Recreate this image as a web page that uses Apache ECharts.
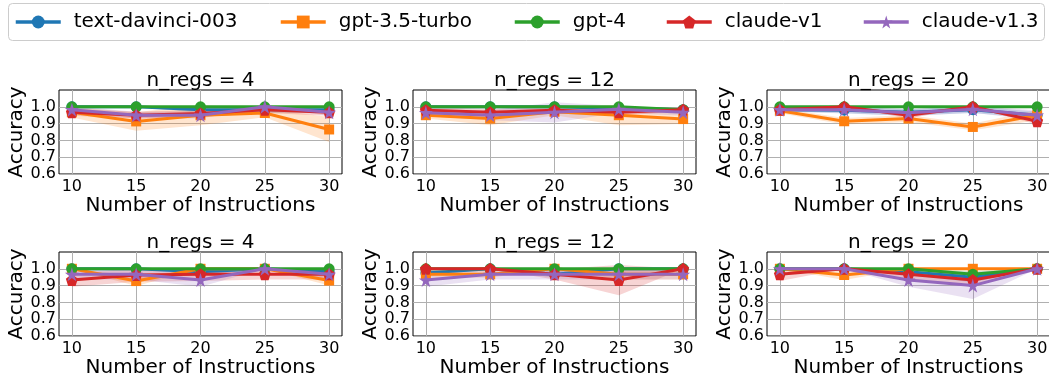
<!DOCTYPE html>
<html>
<head>
<meta charset="utf-8">
<script src="https://cdn.jsdelivr.net/npm/echarts@6/dist/echarts.min.js"></script>
<style>
  html, body { margin: 0; padding: 0; background: #fff; }
  #chart { width: 1049px; height: 379px; }
</style>
</head>
<body>
<div id="chart"></div>
<script>
// Accuracy vs number of instructions, 2 rows x 3 panels (n_regs)
const xValues = [10, 15, 20, 25, 30];
const models = ['text-davinci-003', 'gpt-3.5-turbo', 'gpt-4', 'claude-v1', 'claude-v1.3'];
const panelTitles = ['n_regs = 4', 'n_regs = 12', 'n_regs = 20', 'n_regs = 4', 'n_regs = 12', 'n_regs = 20'];

// mean accuracy per panel (top row first)
const davinciMean = [
  [1.0, 1.0, 0.983, 0.983, 0.983],
  [1.0, 1.0, 1.0, 0.99, 0.983],
  [0.983, 0.98, 0.967, 0.983, 0.95],
  [1.0, 1.0, 0.983, 1.0, 0.983],
  [0.975, 1.0, 0.967, 1.0, 1.0],
  [1.0, 1.0, 0.983, 0.95, 1.0]
];
const gpt35Mean = [
  [0.967, 0.913, 0.95, 0.963, 0.865],
  [0.95, 0.93, 0.97, 0.95, 0.927],
  [0.976, 0.914, 0.93, 0.88, 0.95],
  [1.0, 0.927, 1.0, 1.0, 0.93],
  [0.967, 0.967, 1.0, 0.967, 0.967],
  [1.0, 0.963, 1.0, 1.0, 1.0]
];
const gpt4Mean = [
  [1.0, 1.0, 1.0, 1.0, 1.0],
  [1.0, 1.0, 1.0, 1.0, 0.983],
  [1.0, 1.0, 1.0, 1.0, 1.0],
  [1.0, 1.0, 1.0, 1.0, 1.0],
  [1.0, 1.0, 1.0, 1.0, 1.0],
  [1.0, 1.0, 1.0, 0.967, 1.0]
];
const claudeV1Mean = [
  [0.967, 0.95, 0.96, 0.983, 0.967],
  [0.98, 0.967, 0.98, 0.967, 0.983],
  [0.983, 1.0, 0.95, 1.0, 0.914],
  [0.933, 0.963, 0.967, 0.967, 0.967],
  [1.0, 1.0, 0.967, 0.933, 1.0],
  [0.967, 1.0, 0.967, 0.933, 1.0]
];
const claudeV13Mean = [
  [0.983, 0.95, 0.95, 1.0, 0.967],
  [0.965, 0.95, 0.967, 0.985, 0.967],
  [0.983, 0.983, 0.965, 0.985, 0.95],
  [0.967, 0.967, 0.933, 1.0, 0.967],
  [0.933, 0.967, 0.967, 0.967, 0.967],
  [1.0, 1.0, 0.933, 0.9, 1.0]
];

// standard deviation (shaded band)
const davinciStd = [
  [0, 0, 0.02, 0.02, 0.02],
  [0, 0, 0, 0.01, 0.01],
  [0.01, 0.02, 0.02, 0.02, 0.02],
  [0, 0, 0.02, 0, 0.02],
  [0.02, 0, 0.02, 0, 0],
  [0, 0, 0.02, 0.03, 0]
];
const gpt35Std = [
  [0.03, 0.055, 0.06, 0.025, 0.075],
  [0.02, 0.04, 0.02, 0.06, 0.03],
  [0.015, 0.02, 0.02, 0.02, 0.03],
  [0, 0.03, 0, 0, 0.03],
  [0.02, 0.02, 0, 0.03, 0.03],
  [0, 0.03, 0, 0, 0]
];
const gpt4Std = [
  [0, 0, 0, 0, 0],
  [0, 0, 0, 0, 0.01],
  [0, 0, 0, 0, 0],
  [0, 0, 0, 0, 0],
  [0, 0, 0, 0, 0],
  [0, 0, 0, 0.02, 0]
];
const claudeV1Std = [
  [0.02, 0.02, 0.02, 0.02, 0.02],
  [0.02, 0.02, 0.02, 0.02, 0.01],
  [0.01, 0, 0.02, 0, 0.02],
  [0.04, 0.04, 0.04, 0.03, 0.03],
  [0, 0, 0.03, 0.09, 0],
  [0.04, 0, 0.03, 0.04, 0]
];
const claudeV13Std = [
  [0.02, 0.02, 0.02, 0, 0.02],
  [0.02, 0.03, 0.06, 0.02, 0.02],
  [0.01, 0.02, 0.02, 0.02, 0.03],
  [0.03, 0.03, 0.04, 0, 0.03],
  [0.04, 0.03, 0.03, 0.03, 0.03],
  [0, 0, 0.04, 0.08, 0]
];

const yTicks = [0.6, 0.7, 0.8, 0.9, 1.0];

const means = [davinciMean, gpt35Mean, gpt4Mean, claudeV1Mean, claudeV13Mean];
const stds = [davinciStd, gpt35Std, gpt4Std, claudeV1Std, claudeV13Std];
const colors = ['#1f77b4', '#ff7f0e', '#2ca02c', '#d62728', '#9467bd'];
const pentagon = 'path://M0,-1 L0.951,-0.309 L0.588,0.809 L-0.588,0.809 L-0.951,-0.309 Z';
const star = 'path://M0,-1 L0.2245,-0.309 L0.951,-0.309 L0.363,0.118 L0.588,0.809 L0,0.382 L-0.588,0.809 L-0.363,0.118 L-0.951,-0.309 L-0.2245,-0.309 Z';
const symbols = ['circle', 'rect', 'circle', pentagon, star];
const symbolSizes = [11, 10, 11, 12, 14];

const FONT = 'DejaVu Sans';
const colLeft = [59, 413, 767];
const rowTop = [90, 252];
const gridW = 283, gridH = 84;

const grids = [], xAxes = [], yAxes = [], titles = [], series = [];

panelTitles.forEach((t, p) => {
  const r = Math.floor(p / 3), c = p % 3;
  grids.push({
    left: colLeft[c], top: rowTop[r], width: gridW, height: gridH,
    show: true, borderColor: '#000', borderWidth: 1, backgroundColor: 'transparent',
    outerBoundsMode: 'none'
  });
  titles.push({
    text: t, left: colLeft[c] + gridW / 2, top: rowTop[r] - 19, textAlign: 'center', padding: 0,
    textStyle: { fontFamily: FONT, fontSize: 20, fontWeight: 'normal', color: '#000' }
  });
  xAxes.push({
    type: 'value', gridIndex: p, min: 9, max: 31,
    name: 'Number of Instructions', nameLocation: 'middle', nameGap: 19,
    nameTextStyle: { fontFamily: FONT, fontSize: 20, color: '#000' },
    axisLine: { show: false },
    axisTick: { show: false, customValues: xValues },
    axisLabel: { customValues: xValues, margin: 5, fontFamily: FONT, fontSize: 16, color: '#000' },
    splitLine: { show: true, lineStyle: { color: '#b0b0b0', width: 1 } }
  });
  yAxes.push({
    type: 'value', gridIndex: p, min: 0.6, max: 1.1,
    name: 'Accuracy', nameLocation: 'middle', nameGap: 32, nameRotate: 90,
    nameTextStyle: { fontFamily: FONT, fontSize: 20, color: '#000' },
    axisLine: { show: false },
    axisTick: { show: false, customValues: yTicks },
    axisLabel: { customValues: yTicks, margin: 3, fontFamily: FONT, fontSize: 16, color: '#000',
      formatter: v => Number(v).toFixed(1) },
    splitLine: { show: true, lineStyle: { color: '#b0b0b0', width: 1 } }
  });

  models.forEach((m, k) => {
    const mu = means[k][p], sd = stds[k][p];
    const band = xValues.map((x, i) => [x, mu[i] - sd[i], mu[i] + sd[i]]);
    series.push({
      type: 'custom', name: m + ' band', xAxisIndex: p, yAxisIndex: p, z: 1,
      silent: true, clip: true,
      data: band,
      renderItem: (params, api) => {
        if (params.dataIndex !== 0) return;
        const pts = [];
        band.forEach(b => pts.push(api.coord([b[0], b[2]])));
        for (let i = band.length - 1; i >= 0; i--) pts.push(api.coord([band[i][0], band[i][1]]));
        return { type: 'polygon', shape: { points: pts }, style: { fill: colors[k], opacity: 0.2 } };
      }
    });
  });
  models.forEach((m, k) => {
    series.push({
      type: 'line', name: m, xAxisIndex: p, yAxisIndex: p, z: 2 + k,
      data: xValues.map((x, i) => [x, means[k][p][i]]),
      symbol: symbols[k], symbolSize: symbolSizes[k], showAllSymbol: true,
      lineStyle: { color: colors[k], width: 3 },
      itemStyle: { color: colors[k], borderWidth: 0 },
      animation: false
    });
  });
});

const legendLeft = [14, 279, 513, 665, 862];
const legends = models.map((m, k) => ({
  data: [m], left: legendLeft[k], top: 12, padding: 0, itemWidth: 45, itemHeight: 16,
  selectedMode: false,
  lineStyle: { width: 3.5 },
  textStyle: { fontFamily: FONT, fontSize: 20, color: '#000', padding: [0, 0, 0, 8] }
}));

const chart = echarts.init(document.getElementById('chart'), null, { renderer: 'canvas' });
chart.setOption({
  animation: false,
  backgroundColor: '#fff',
  title: titles,
  legend: legends,
  grid: grids,
  xAxis: xAxes,
  yAxis: yAxes,
  graphic: [{
    type: 'rect', left: 8, top: 3, z: -10,
    shape: { width: 1036, height: 37, r: 4 },
    style: { fill: '#fff', stroke: '#cccccc', lineWidth: 1 }
  }],
  series: series
});
</script>
</body>
</html>
